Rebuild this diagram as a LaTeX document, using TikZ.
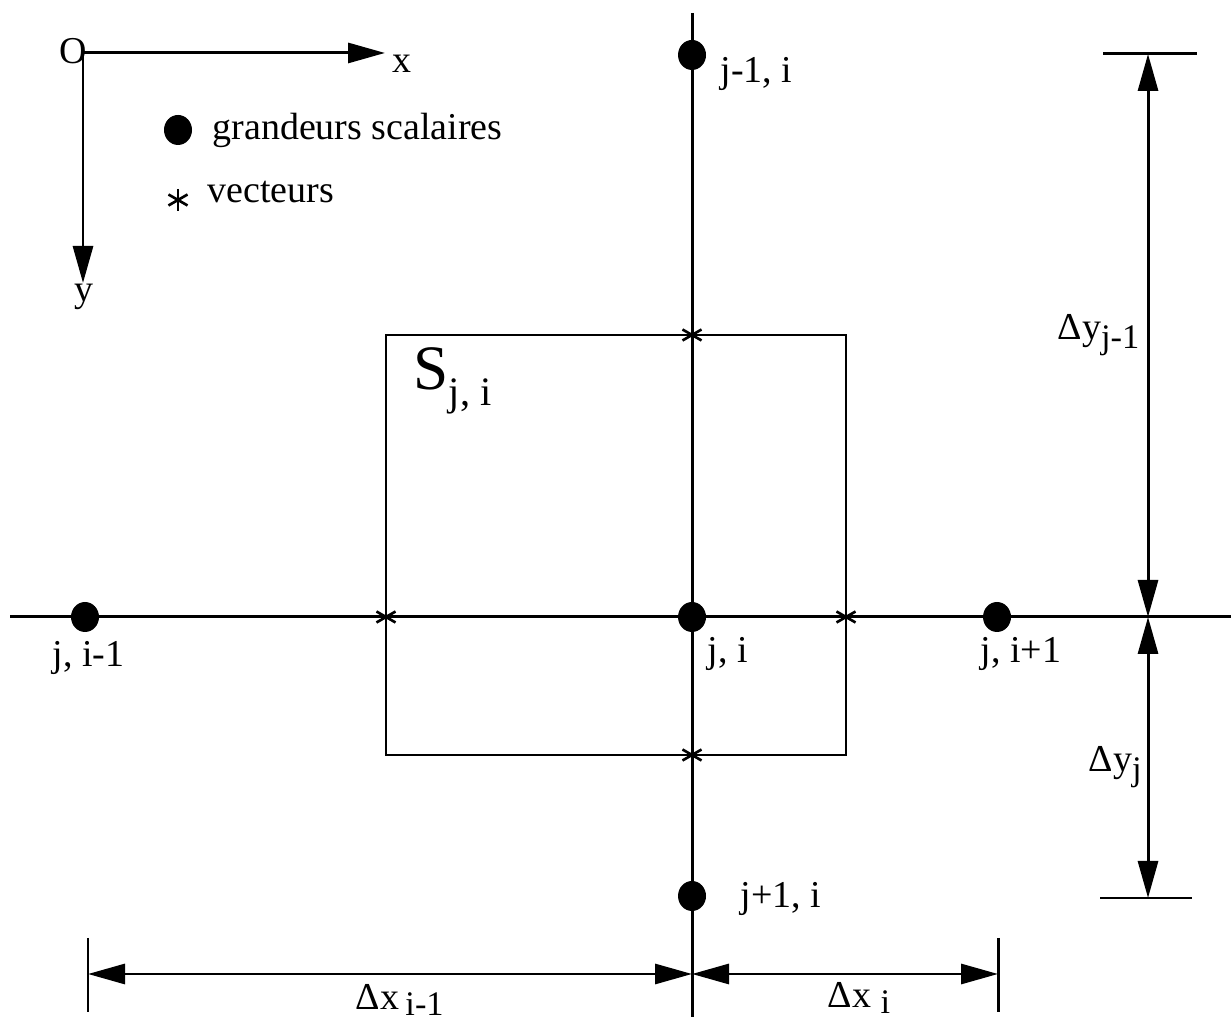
\documentclass[tikz,border=0pt]{standalone}
\usepackage{fontspec}
\setmainfont{Liberation Serif}
\usetikzlibrary{arrows.meta,shapes.geometric}
\newcommand{\lowsub}[1]{\raisebox{-0.9mm}{\fontsize{9.8}{11}\selectfont #1}}

\begin{document}
\begin{tikzpicture}[
    font=\fontsize{10.8}{13}\selectfont,
    >={Triangle[length=3.7mm,width=2mm]},
    scal/.style={ellipse, fill=black, inner sep=0pt, minimum width=2.8mm, minimum height=3mm},
    vect/.style={inner sep=0pt, minimum size=2.4mm, path picture={
        \foreach \a in {90,30,150}
          \draw[line width=0.75pt] (path picture bounding box.center) ++(\a:1.1mm) -- ++(\a+180:2.2mm);}},
    lbl/.style={anchor=base west, inner sep=0pt},
    ln/.style={line width=0.85pt},
    arr/.style={->, line width=0.85pt},
    dim/.style={<->, line width=0.85pt}
  ]
  \useasboundingbox (0,0) rectangle (12.31,10.26);

  % --- AXES ---
  \coordinate (orig) at (0.83,9.73);
  \coordinate (xtip) at (3.85,9.73);
  \coordinate (ytip) at (0.83,7.43);
  \draw[arr] (orig) -- (xtip);
  \draw[arr] (orig) -- (ytip);
  \node (lbl-o) at (0.73,9.75) {O};
  \node (lbl-x) at (4.02,9.62) {x};
  \node (lbl-y) at (0.84,7.29) {y};

  % --- LEGEND ---
  \node[scal] (leg-dot) at (1.78,8.96) {};
  \node[lbl] (leg-scal) at (2.12,8.86) {grandeurs scalaires};
  \node[vect] (leg-star) at (1.78,8.26) {};
  \node[lbl] (leg-vect) at (2.07,8.23) {vecteurs};

  % --- GRID LINES ---
  \coordinate (vtop) at (6.92,10.13);
  \coordinate (vbot) at (6.92,0.09);
  \coordinate (hleft) at (0.10,4.09);
  \coordinate (hright) at (12.31,4.09);
  \draw[ln] (vtop) -- (vbot);
  \draw[ln] (hleft) -- (hright);

  % --- CELL S ---
  \draw[line width=0.75pt] (3.86,6.91) rectangle (8.46,2.71);
  \node[lbl, font=\fontsize{18}{20}\selectfont] (surf) at (4.13,6.36) {S\raisebox{-1.6mm}{\fontsize{11.5}{13}\selectfont j, i}};

  % --- SCALAR POINTS ---
  \node[scal] (ji) at (6.92,4.09) {};
  \node[scal] (jm1i) at (6.92,9.71) {};
  \node[scal] (jp1i) at (6.92,1.30) {};
  \node[scal] (jim1) at (0.85,4.09) {};
  \node[scal] (jip1) at (9.97,4.09) {};
  \node[lbl] (lbl-jm1i) at (7.20,9.43) {j-1, i};
  \node[lbl] (lbl-jim1) at (0.52,3.59) {j, i-1};
  \node[lbl] (lbl-ji) at (7.07,3.63) {j, i};
  \node[lbl] (lbl-jip1) at (9.80,3.63) {j, i+1};
  \node[lbl] (lbl-jp1i) at (7.40,1.18) {j+1, i};

  % --- VECTOR POINTS ---
  \node[vect] (vn) at (6.92,6.91) {};
  \node[vect] (vs) at (6.92,2.71) {};
  \node[vect] (vw) at (3.86,4.09) {};
  \node[vect] (ve) at (8.46,4.09) {};

  % --- DIMENSIONS ---
  \coordinate (dyt) at (11.48,9.72);
  \coordinate (dym) at (11.48,4.09);
  \coordinate (dyb) at (11.48,1.28);
  \draw[ln] ([xshift=-4.5mm]dyt) -- ([xshift=4.9mm]dyt);
  \draw[ln] ([xshift=-4.8mm]dyb) -- ([xshift=4.4mm]dyb);
  \draw[dim] (dyt) -- (dym);
  \draw[dim] (dym) -- (dyb);
  \node[lbl] (lbl-dy1) at (10.57,6.86) {Δy\lowsub{j-1}};
  \node[lbl] (lbl-dy2) at (10.88,2.54) {Δy\lowsub{j}};

  \coordinate (dxl) at (0.88,0.52);
  \coordinate (dxm) at (6.92,0.52);
  \coordinate (dxr) at (9.98,0.52);
  \draw[ln] ([yshift=3.6mm]dxl) -- ([yshift=-3.8mm]dxl);
  \draw[ln] ([yshift=3.6mm]dxr) -- ([yshift=-3.8mm]dxr);
  \draw[dim] (dxl) -- (dxm);
  \draw[dim] (dxm) -- (dxr);
  \node[lbl] (lbl-dx1) at (3.55,0.16) {Δx\,\raisebox{-0.6mm}{\fontsize{9.8}{11}\selectfont i-1}};
  \node[lbl] (lbl-dx2) at (8.27,0.18) {Δx \raisebox{-0.6mm}{\fontsize{9.8}{11}\selectfont i}};

\end{tikzpicture}
\end{document}
